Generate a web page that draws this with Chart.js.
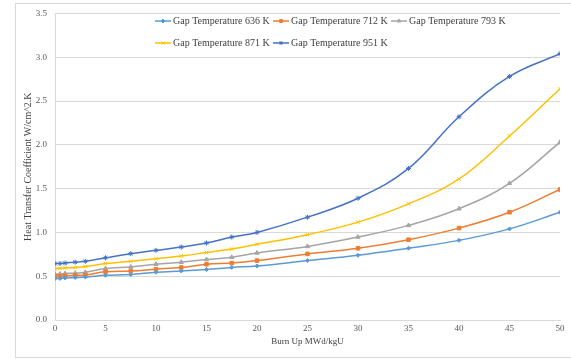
<!DOCTYPE html>
<html>
<head>
<meta charset="utf-8">
<script src="https://cdn.jsdelivr.net/npm/chart.js@4"></script>
<style>
html,body{margin:0;padding:0;background:#fff;}
#wrap{position:relative;width:571px;height:359px;overflow:hidden;}
#frame{position:absolute;left:15px;top:3px;width:600px;height:355px;border:1px solid #D9D9D9;box-sizing:border-box;}
canvas{position:absolute;left:0;top:0;}
</style>
</head>
<body>
<div id="wrap"><div id="frame"></div><canvas id="c" width="571" height="359"></canvas></div>
<script>
const burnUp = [0, 0.5, 1, 2, 3, 5, 7.5, 10, 12.5, 15, 17.5, 20, 25, 30, 35, 40, 45, 50];
const seriesNames = ["Gap Temperature 636 K", "Gap Temperature 712 K", "Gap Temperature 793 K", "Gap Temperature 871 K", "Gap Temperature 951 K"];
const gap636 = [0.473, 0.475, 0.48, 0.485, 0.49, 0.51, 0.52, 0.545, 0.56, 0.576, 0.60, 0.617, 0.678, 0.739, 0.82, 0.909, 1.04, 1.23];
const gap712 = [0.50, 0.50, 0.505, 0.51, 0.515, 0.55, 0.56, 0.58, 0.60, 0.636, 0.65, 0.678, 0.754, 0.818, 0.917, 1.049, 1.23, 1.49];
const gap793 = [0.523, 0.525, 0.53, 0.535, 0.545, 0.587, 0.606, 0.636, 0.66, 0.69, 0.716, 0.765, 0.84, 0.947, 1.08, 1.27, 1.56, 2.03];
const gap871 = [0.587, 0.59, 0.595, 0.60, 0.61, 0.644, 0.67, 0.70, 0.73, 0.77, 0.81, 0.864, 0.974, 1.117, 1.326, 1.61, 2.10, 2.64];
const gap951 = [0.644, 0.645, 0.65, 0.66, 0.67, 0.71, 0.757, 0.795, 0.833, 0.879, 0.947, 1.0, 1.174, 1.39, 1.73, 2.32, 2.78, 3.04];
const colors = ["#5B9BD5", "#ED7D31", "#A5A5A5", "#FFC000", "#4472C4"];
const markers = ["rectRot", "rect", "triangle", "crossRot", "star"];
const markerSizes = [2, 2.5, 2.5, 2.5, 2.5];
const allValues = [gap636, gap712, gap793, gap871, gap951];

const FONT = "'Liberation Serif', 'Times New Roman', serif";

const datasets = allValues.map((vals, i) => ({
  label: seriesNames[i],
  data: burnUp.map((x, j) => ({x: x, y: vals[j]})),
  borderColor: colors[i],
  backgroundColor: colors[i],
  borderWidth: 1.5,
  pointStyle: markers[i],
  pointRadius: markerSizes[i],
  pointBorderWidth: 1,
  pointBackgroundColor: colors[i],
  pointBorderColor: colors[i],
  tension: 0.4,
  fill: false
}));

const legendPlugin = {
  id: 'customLegend',
  afterDraw(chart) {
    const ctx = chart.ctx;
    ctx.save();
    ctx.font = "10px " + FONT;
    ctx.textBaseline = 'middle';
    const rows = [[0,1,2],[3,4]];
    const rowY = [21, 43];
    const startX = 155;
    const lineLen = 16;
    const colStep = 118;
    rows.forEach((row, r) => {
      row.forEach((idx, k) => {
        const x0 = startX + k * colStep;
        const y = rowY[r];
        const ds = chart.data.datasets[idx];
        ctx.strokeStyle = ds.borderColor;
        ctx.lineWidth = 1.5;
        ctx.beginPath();
        ctx.moveTo(x0, y);
        ctx.lineTo(x0 + lineLen, y);
        ctx.stroke();
        ctx.fillStyle = ds.borderColor;
        ctx.lineWidth = 1;
        Chart.helpers.drawPoint(ctx, {pointStyle: ds.pointStyle, radius: 2, borderWidth: 1, rotation: 0}, x0 + lineLen / 2, y);
        ctx.fillStyle = '#404040';
        ctx.fillText(ds.label, x0 + lineLen + 2, y + 0.5);
      });
    });
    ctx.restore();
  }
};

new Chart(document.getElementById('c'), {
  type: 'line',
  data: { datasets: datasets },
  options: {
    responsive: false,
    animation: false,
    devicePixelRatio: 1,
    layout: { padding: { top: 12, right: 11, left: 0, bottom: 0 } },
    plugins: { legend: { display: false }, tooltip: { enabled: false } },
    scales: {
      x: {
        type: 'linear',
        min: 0, max: 50,
        ticks: { stepSize: 5, color: '#595959', font: { family: FONT, size: 9 }, padding: 3, maxRotation: 0 },
        grid: { display: false, drawTicks: false },
        border: { display: true, color: '#D9D9D9', width: 1 },
        title: { display: true, text: 'Burn Up MWd/kgU', color: '#404040', font: { family: FONT, size: 9 }, padding: { top: 1, bottom: 12 } },
        afterFit(scale) { scale.height = 39; }
      },
      y: {
        min: 0, max: 3.5,
        ticks: { stepSize: 0.5, color: '#595959', font: { family: FONT, size: 9 }, padding: 8,
          callback: v => Number(v).toFixed(1) },
        grid: { color: '#D9D9D9', lineWidth: 1, drawTicks: false },
        border: { display: true, color: '#D9D9D9', width: 1 },
        title: { display: true, text: 'Heat Transfer Coefficient W/cm^2.K', color: '#404040', font: { family: FONT, size: 10 }, padding: { top: 22, bottom: 0 } },
        afterFit(scale) { scale.width = 55; }
      }
    }
  },
  plugins: [legendPlugin]
});
</script>
</body>
</html>
